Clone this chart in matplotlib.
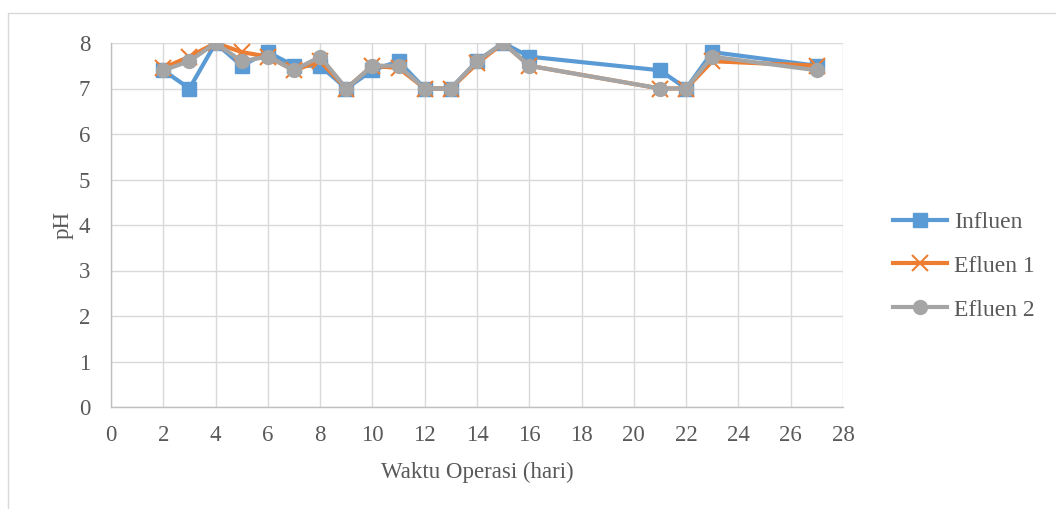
import matplotlib.pyplot as plt
from matplotlib.patches import Rectangle

# pH over operating time
hari = [2, 3, 4, 5, 6, 7, 8, 9, 10, 11, 12, 13, 14, 15, 16, 21, 22, 23, 27]
influen = [7.4, 7.0, 8.0, 7.5, 7.8, 7.5, 7.5, 7.0, 7.4, 7.6, 7.0, 7.0, 7.6, 8.0, 7.7, 7.4, 7.0, 7.8, 7.5]
efluen1 = [7.45, 7.7, 8.0, 7.8, 7.7, 7.4, 7.6, 7.0, 7.5, 7.45, 7.0, 7.0, 7.55, 8.0, 7.5, 7.0, 7.0, 7.6, 7.5]
efluen2 = [7.4, 7.6, 8.0, 7.6, 7.7, 7.4, 7.7, 7.0, 7.5, 7.5, 7.0, 7.0, 7.6, 8.0, 7.5, 7.0, 7.0, 7.7, 7.4]

plt.rcParams['font.family'] = ['Liberation Serif', 'DejaVu Serif']
txt = '#595959'
grid = '#D9D9D9'
fs = 16.5

fig = plt.figure(figsize=(10.56, 5.09), dpi=100)
ax = fig.add_axes([111/1056, 1-407/509, 732/1056, 364/509])

# chart frame
fig.patches.append(Rectangle((8/1056, -0.1), 1.2, 1-13/509+0.1, transform=fig.transFigure,
                             fill=False, edgecolor=grid, linewidth=1))

ax.plot(hari, influen, color='#5B9BD5', lw=3, marker='s', ms=10, label='Influen', zorder=3)
ax.plot(hari, efluen1, color='#ED7D31', lw=3, marker='x', ms=11, mew=1.5, label='Efluen 1', zorder=4)
ax.plot(hari, efluen2, color='#A5A5A5', lw=3, marker='o', ms=10, label='Efluen 2', zorder=5)

ax.set_xlim(0, 28)
ax.set_ylim(0, 8)
ax.set_xticks(range(0, 29, 2))
ax.set_yticks(range(0, 9))
ax.grid(True, color=grid, lw=1)
ax.set_axisbelow(True)
for s in ['top', 'right']:
    ax.spines[s].set_visible(False)
for s in ['left', 'bottom']:
    ax.spines[s].set_color('#BFBFBF')
    ax.spines[s].set_linewidth(1)
ax.tick_params(length=0, labelsize=fs, colors=txt)
ax.tick_params(axis='x', pad=13)
ax.tick_params(axis='y', pad=15)
ax.set_xlabel('Waktu Operasi (hari)', fontsize=fs, color=txt, labelpad=11)
ax.set_ylabel('pH', fontsize=fs, color=txt, labelpad=4)

ax.legend(loc='center left', bbox_to_anchor=(893/1056, 1-266/509), bbox_transform=fig.transFigure,
          frameon=False, fontsize=17, labelcolor=txt, handlelength=2.3,
          handletextpad=0.3, labelspacing=0.95, borderaxespad=0, borderpad=0)

fig.savefig('out.png', dpi=100)
